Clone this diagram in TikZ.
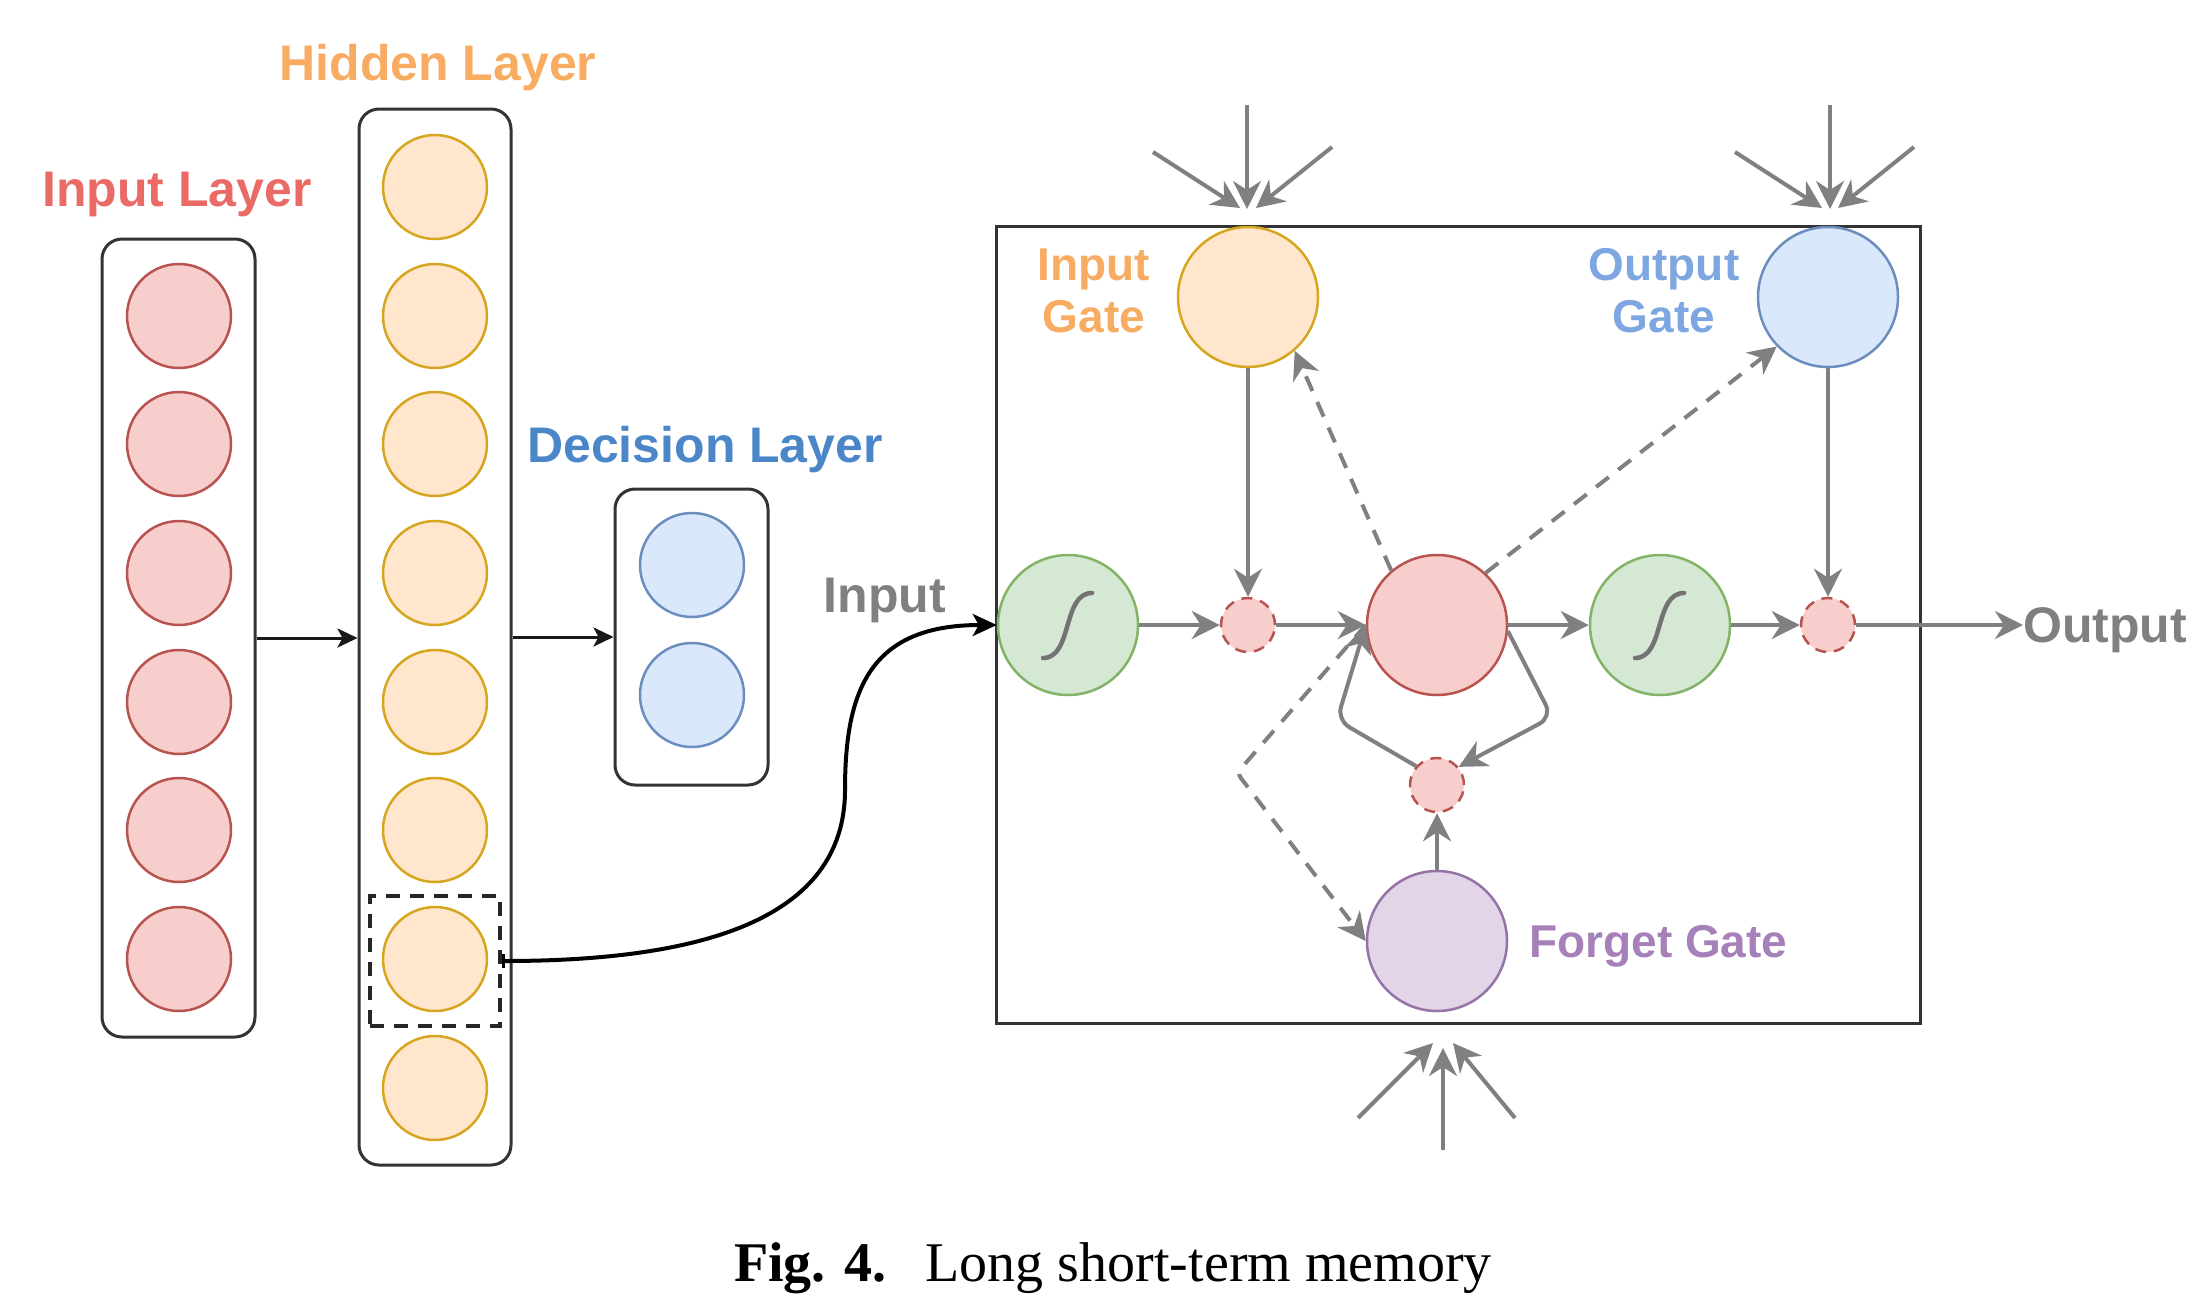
\documentclass[tikz,border=0pt]{standalone}
\usepackage{fontspec}
\setmainfont{Liberation Serif}
\newfontfamily\lab{Liberation Sans}
\usetikzlibrary{arrows.meta}
\definecolor{redF}{HTML}{F8CECC}\definecolor{redD}{HTML}{B85450}
\definecolor{orF}{HTML}{FFE6CC}\definecolor{orD}{HTML}{D6A620}
\definecolor{blF}{HTML}{DAE8FC}\definecolor{blD}{HTML}{6C8EBF}
\definecolor{grF}{HTML}{D5E8D4}\definecolor{grD}{HTML}{82B366}
\definecolor{puF}{HTML}{E1D5E7}\definecolor{puD}{HTML}{9673A6}
\definecolor{txRed}{HTML}{EA6B66}
\definecolor{txOr}{HTML}{F7AC62}
\definecolor{txBl}{HTML}{4A86C8}
\definecolor{txBlL}{HTML}{7EA6E0}
\definecolor{txPu}{HTML}{A680B8}
\definecolor{gry}{HTML}{808080}
\tikzset{
  neuron/.style={circle, minimum size=104pt, inner sep=0pt, line width=2.5pt},
  bignode/.style={circle, minimum size=140pt, inner sep=0pt, line width=2.5pt},
  dotm/.style={circle, minimum size=54pt, inner sep=0pt, line width=2.5pt, fill=redF, draw=redD, dash pattern=on 11pt off 8pt},
  layerbox/.style={draw=black!80, line width=3pt, rounded corners=20pt, inner sep=0pt},
  garrow/.style={draw=gry, line width=4pt, -{Stealth[length=28pt,width=28pt,inset=9pt]}},
  gdash/.style={garrow, dash pattern=on 16pt off 12pt},
  barrow/.style={draw=black!90, line width=3pt, -{Stealth[length=20pt,width=19pt,inset=5pt]}},
  lbl/.style={font=\lab\bfseries\fontsize{50}{60}\selectfont, inner sep=0pt, anchor=base},
  glbl/.style={font=\lab\bfseries\fontsize{46}{52}\selectfont, inner sep=0pt, anchor=base},
  sigline/.style={draw=gry!90!black, line width=4.5pt, line cap=round},
}
\begin{document}
\begin{tikzpicture}[x=1pt, y=-1pt]
\useasboundingbox (0,0) rectangle (2211,1315);

% ---------------- Input layer
\node[layerbox, minimum width=153pt, minimum height=798pt] (inbox) at (178.5,638) {};
\foreach \i/\yy in {1/316,2/444,3/573,4/702,5/830,6/959}
  \node[neuron, fill=redF, draw=redD] (in\i) at (179,\yy) {};
\node[lbl, text=txRed] (linput) at (177,206) {Input Layer};

% ---------------- Hidden layer
\node[layerbox, minimum width=152pt, minimum height=1056pt] (hidbox) at (435,637) {};
\foreach \i/\yy in {1/187,2/316,3/444,4/573,5/702,6/830,7/959,8/1088}
  \node[neuron, fill=orF, draw=orD] (h\i) at (435,\yy) {};
\node[draw=black!85, line width=4pt, dash pattern=on 14pt off 10pt, minimum width=130pt, minimum height=130pt, inner sep=0pt] (sel) at (435,961) {};
\node[lbl, text=txOr] (lhidden) at (438,80) {Hidden Layer};

% ---------------- Decision layer
\node[layerbox, minimum width=153pt, minimum height=296pt] (decbox) at (691.5,637) {};
\node[neuron, fill=blF, draw=blD] (d1) at (692,565) {};
\node[neuron, fill=blF, draw=blD] (d2) at (692,695) {};
\node[lbl, text=txBl] (ldec) at (705,462) {Decision Layer};

\draw[barrow] (inbox.east) -- (inbox.east -| hidbox.west);
\draw[barrow] (hidbox.east) -- (hidbox.east -| decbox.west);

% ---------------- LSTM block
\node[draw=black!80, line width=3pt, minimum width=924pt, minimum height=797pt, inner sep=0pt] (lstm) at (1458,624.5) {};

\node[bignode, fill=grF, draw=grD] (sig1) at (1068,625) {};
\node[bignode, fill=orF, draw=orD] (igate) at (1248,297) {};
\node[bignode, fill=blF, draw=blD] (ogate) at (1828,297) {};
\node[bignode, fill=redF, draw=redD] (cell) at (1437,625) {};
\node[bignode, fill=grF, draw=grD] (sig2) at (1660,625) {};
\node[bignode, fill=puF, draw=puD] (fgate) at (1437,941) {};
\node[dotm] (dot1) at (1248,625) {};
\node[dotm] (dot2) at (1828,625) {};
\node[dotm] (dot3) at (1437,785) {};

% sigmoid glyphs
\draw[sigline] ([shift={(-25,33)}]sig1.center) .. controls +(30,0) and +(-30,0) .. ([shift={(24,-32)}]sig1.center);
\draw[sigline] ([shift={(-25,33)}]sig2.center) .. controls +(30,0) and +(-30,0) .. ([shift={(24,-32)}]sig2.center);

% labels
\node[glbl, text=txOr] (igl1) at (1094,280) {Input};
\node[glbl, text=txOr] (igl2) at (1094,332) {Gate};
\node[glbl, text=txBlL] (ogl1) at (1664,280) {Output};
\node[glbl, text=txBlL] (ogl2) at (1664,332) {Gate};
\node[glbl, text=txPu, anchor=base west] (fgl) at (1529,957) {Forget Gate};
\node[lbl, text=gry] (tinput) at (885,612) {Input};
\node[lbl, text=gry, anchor=base west] (tout) at (2023,642) {Output};

% main flow
\draw[garrow] (sig1) -- (dot1);
\draw[garrow] (dot1) -- (cell);
\draw[garrow] (cell) -- (sig2);
\draw[garrow] (sig2) -- (dot2);
\draw[garrow] (dot2) -- (dot2 -| tout.west);
\draw[garrow] (igate) -- (dot1);
\draw[garrow] (ogate) -- (dot2);
\draw[garrow] (fgate) -- (dot3);

% recurrent loop
\coordinate (lr) at (1552,717);
\coordinate (ll) at (1337,720);
\draw[garrow, rounded corners=14pt] (cell.-5) -- (lr) -- (dot3.40);
\draw[garrow, rounded corners=14pt] (dot3.138) -- (ll) -- (cell.west);

% peepholes
\coordinate (fk) at (1237,773);
\draw[gdash] (cell.130) -- (igate.-49);
\draw[gdash] (cell.47) -- (ogate.224);
\draw[gdash, rounded corners=6pt] (cell.west) -- (fk) -- (fgate.west);

% incoming arrows to gates
\coordinate (ia0s) at (1247,105); \coordinate (ia0e) at (1247,209);
\coordinate (ia1s) at (1153,152); \coordinate (ia1e) at (1240,208);
\coordinate (ia2s) at (1332,147); \coordinate (ia2e) at (1256,208);
\coordinate (oa0s) at (1830,105); \coordinate (oa0e) at (1830,209);
\coordinate (oa1s) at (1735,152); \coordinate (oa1e) at (1822,208);
\coordinate (oa2s) at (1914,147); \coordinate (oa2e) at (1838,208);
\coordinate (fa0s) at (1443,1150); \coordinate (fa0e) at (1443,1048);
\coordinate (fa1s) at (1358,1118); \coordinate (fa1e) at (1433,1043);
\coordinate (fa2s) at (1515,1118); \coordinate (fa2e) at (1453,1043);
\foreach \p in {ia0,ia1,ia2,oa0,oa1,oa2,fa0,fa1,fa2}
  \draw[garrow] (\p s) -- (\p e);

% connection from hidden unit to LSTM input
\coordinate (cv) at (845,790);
\draw[draw=black, line width=4pt, {Bar[width=14pt,line width=3pt]}-{Stealth[length=24pt,width=22pt,inset=6pt]}]
  (sel.east) .. controls (700,961) and (845,920) .. (cv) .. controls (845,690) and (870,625) .. (sig1.west);

% caption
\node[font=\fontsize{56}{60}\selectfont, inner sep=0pt, anchor=base] (cap) at (1113,1281) {\textbf{Fig. 4.}\hspace{0.7em}Long short-term memory};
\end{tikzpicture}
\end{document}
